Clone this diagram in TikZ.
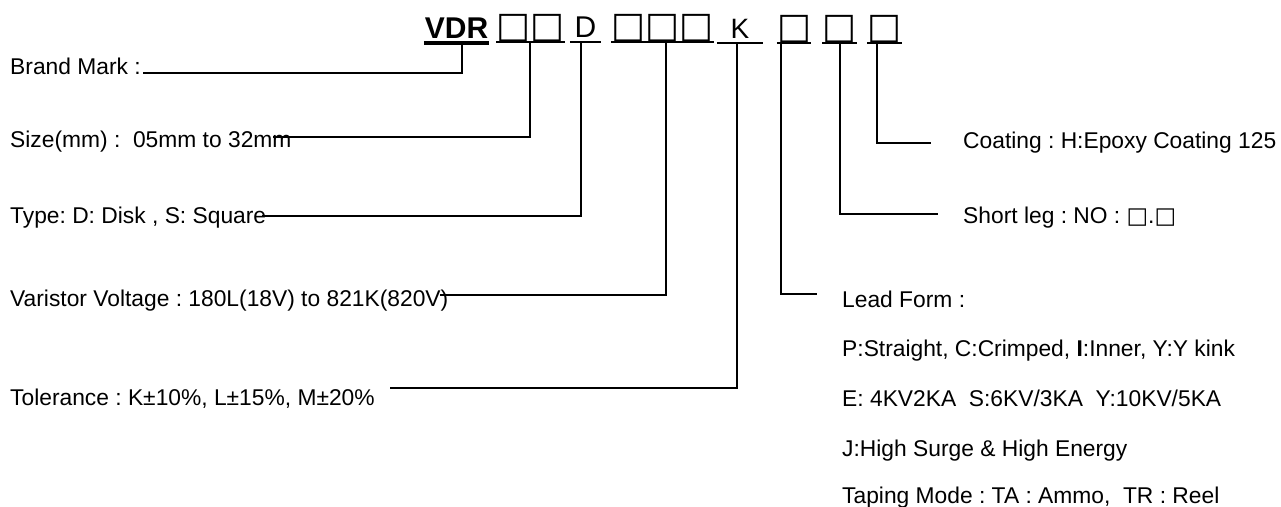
\documentclass[tikz,border=0pt]{standalone}
\usepackage{fontspec}
\setmainfont{Liberation Sans}
\newfontfamily\symfont{DejaVu Sans}
\usetikzlibrary{positioning}

\newcommand{\sqglyph}{{\symfont □}}
\frenchspacing

\begin{document}
\begin{tikzpicture}[
    x=1pt, y=-1pt,
    lbl/.style={anchor=base west, inner sep=0pt, font=\fontsize{22.8}{27}\selectfont},
    code/.style={anchor=south, inner xsep=0pt, inner ysep=4pt, text depth=0pt},
    boxes/.style={code, font=\fontsize{36}{36}\symfont},
    uline/.style={line width=2.5pt},
    lead/.style={line width=1.5pt},
]
\fill[white] (0,0) rectangle (1281,506);
\useasboundingbox (0,0) rectangle (1281,506);

% ====== Part number code ======
\node[code, font=\fontsize{30}{30}\selectfont\bfseries, minimum width=65pt] (cVDR) at (456.5,43) {VDR};
\node[boxes, minimum width=61pt] (cSize) at (530.5,42) {□□};
\node[code, font=\fontsize{30}{30}\selectfont, minimum width=31pt] (cType) at (585.5,42) {D};
\node[boxes, minimum width=91pt] (cVolt) at (662.5,42) {□□□};
\node[code, font=\fontsize{28}{28}\selectfont, minimum width=46pt] (cTol) at (740,43) {K};
\node[boxes, minimum width=28pt] (cLead) at (794,43) {□};
\node[boxes, minimum width=31pt] (cLeg) at (839.5,43) {□};
\node[boxes, minimum width=31pt] (cCoat) at (884.5,43) {□};

% underlines
\draw[line width=4pt] (cVDR.south west) -- (cVDR.south east);
\foreach \c in {cSize,cType,cVolt,cTol,cLead,cLeg,cCoat}
    \draw[uline] (\c.south west) -- (\c.south east);

% ====== Left labels ======
\node[lbl] (lBrand) at (10,74) {Brand Mark :};
\node[lbl] (lSize) at (10,147) {Size(mm) : \ 05mm to 32mm};
\node[lbl] (lType) at (10,223) {Type: D: Disk , S: Square};
\node[lbl] (lVolt) at (10,306) {Varistor Voltage : 180L(18V) to 821K(820V)};
\node[lbl] (lTol) at (10,405) {Tolerance : K±10\%, L±15\%, M±20\%};

% ====== Right labels ======
\node[lbl] (rCoat) at (963,148) {Coating : H:Epoxy Coating 125};
\node[lbl] (rLeg) at (963,223) {Short leg : NO : \sqglyph.\sqglyph};
\node[lbl] (rLead) at (842,307) {Lead Form :};
\node[lbl] (rForm) at (842,356) {P:Straight, C:Crimped, \textbf{I}:Inner, Y:Y kink};
\node[lbl] (rSurge) at (842,406) {E: 4KV2KA \ S:6KV/3KA \ Y:10KV/5KA};
\node[lbl] (rEnergy) at (842,456) {J:High Surge \& High Energy};
\node[lbl] (rTape) at (842,503) {Taping Mode : TA : Ammo, \ TR : Reel};

% ====== Leader lines ======
\coordinate (jBrand) at (462,73);  \coordinate (eBrand) at (143,73);
\coordinate (jSize)  at (530,137); \coordinate (eSize)  at (273,137);
\coordinate (jType)  at (581,216); \coordinate (eType)  at (262,216);
\coordinate (jVolt)  at (666,295); \coordinate (eVolt)  at (440,295);
\coordinate (jTol)   at (737,388); \coordinate (eTol)   at (390,388);
\coordinate (jLead)  at (781,294); \coordinate (eLead)  at (817,294);
\coordinate (jLeg)   at (840,214); \coordinate (eLeg)   at (938,214);
\coordinate (jCoat)  at (877,143); \coordinate (eCoat)  at (931,143);

\draw[lead] (jBrand |- cVDR.south) -- (jBrand) -- (eBrand);
\draw[lead] (jSize |- cSize.south) -- (jSize) -- (eSize);
\draw[lead] (jType |- cType.south) -- (jType) -- (eType);
\draw[lead] (jVolt |- cVolt.south) -- (jVolt) -- (eVolt);
\draw[lead] (jTol |- cTol.south) -- (jTol) -- (eTol);
\draw[lead] (jLead |- cLead.south) -- (jLead) -- (eLead);
\draw[lead] (jLeg |- cLeg.south) -- (jLeg) -- (eLeg);
\draw[lead] (jCoat |- cCoat.south) -- (jCoat) -- (eCoat);

\end{tikzpicture}
\end{document}
